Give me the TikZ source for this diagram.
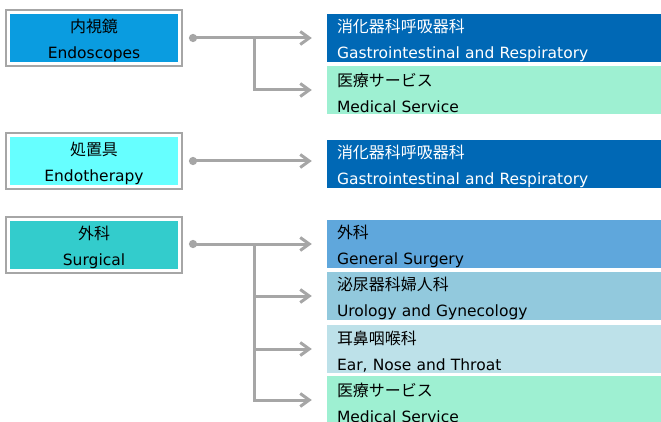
\documentclass[tikz,border=0pt]{standalone}
\usepackage{fontspec}
\setmainfont{DejaVu Sans}
\newfontfamily\jp[Scale=1.03]{Noto Sans CJK JP}
\usepackage{xcolor}
\usepackage{tikz}
\usetikzlibrary{arrows.meta}
\usetikzlibrary{positioning}

\definecolor{linegray}{HTML}{A6A6A6}
\definecolor{endoblue}{HTML}{0A9CE0}
\definecolor{endocyan}{HTML}{66FFFF}
\definecolor{surgteal}{HTML}{33CCCC}
\definecolor{gidark}{HTML}{0068B5}
\definecolor{medgreen}{HTML}{9EF0D2}
\definecolor{gsblue}{HTML}{5FA7DC}
\definecolor{urolblue}{HTML}{92C9DD}
\definecolor{entblue}{HTML}{BDE1E9}

% Japanese first line, padded on top to sit the two lines a bit lower
\newcommand{\jpline}[1]{{\jp\rule{0pt}{19pt}#1}}

\begin{document}
\begin{tikzpicture} [
            x=1pt, y=1pt,
            % ----- Node definitions ----- %
            groupnode/.style = {
                rectangle,
                fill = #1,
                draw = white,
                line width = 3pt,
                preaction = {draw = linegray, line width = 7pt},
                minimum width = 171pt,
                minimum height = 51pt,
                inner sep = 0pt,
                align = center,
                font = \fontsize{15.5}{26}\selectfont
            },
            deptnode/.style = {
                rectangle,
                fill = #1,
                minimum width = 334pt,
                minimum height = 48pt,
                inner xsep = 10pt,
                inner ysep = 0pt,
                text width = 314pt,
                align = left,
                font = \fontsize{15.5}{26}\selectfont
            },
            % ----- Connector definitions ----- %
            branch/.style = {
                draw = linegray,
                line width = 3pt,
                shorten > = 15pt,
                -{Straight Barb[length=9pt,width=13pt]}
            },
            trunk/.style = {
                branch,
                {Circle[length=8pt]}-{Straight Barb[length=9pt,width=13pt]}
            },
    ]
    \useasboundingbox (0,0) rectangle (661,-422);

            % ----- Product groups ----- %
        \node [groupnode=endoblue] (endo) at (94,-38) {\jpline{内視鏡}\\Endoscopes};
        \node [groupnode=endocyan] (endotx) at (94,-161) {\jpline{処置具}\\Endotherapy};
        \node [groupnode=surgteal] (surg) at (94,-245) {\jpline{外科}\\Surgical};

            % ----- Departments ----- %
        \node [deptnode=gidark, text=white] (gi1) at (494,-38) {\jpline{消化器科呼吸器科}\\Gastrointestinal and Respiratory};
        \node [deptnode=medgreen] (med1) at (494,-90) {\jpline{医療サービス}\\Medical Service};
        \node [deptnode=gidark, text=white] (gi2) at (494,-164) {\jpline{消化器科呼吸器科}\\Gastrointestinal and Respiratory};
        \node [deptnode=gsblue] (gs) at (494,-244) {\jpline{外科}\\General Surgery};
        \node [deptnode=urolblue] (uro) at (494,-296) {\jpline{泌尿器科婦人科}\\Urology and Gynecology};
        \node [deptnode=entblue] (ent) at (494,-349) {\jpline{耳鼻咽喉科}\\Ear, Nose and Throat};
        \node [deptnode=medgreen] (med2) at (494,-400) {\jpline{医療サービス}\\Medical Service};

            % ----- Connectors ----- %
        \coordinate [right=8pt of endo] (d1);
        \coordinate [right=73pt of endo] (b1);
        \coordinate [right=8pt of endotx] (d2);
        \coordinate (d3) at ([xshift=8pt]surg.east |- gs);
        \coordinate [right=65pt of d3] (b3);

        \draw [trunk] (d1) -- (d1 -| gi1.west);
        \draw [branch] (b1) |- (med1.west);
        \draw [trunk] (d2) -- (d2 -| gi2.west);
        \draw [trunk] (d3) -- (d3 -| gs.west);
        \draw [branch] (b3) |- (uro.west);
        \draw [branch] (b3) |- (ent.west);
        \draw [branch] (b3) |- (med2.west);

\end{tikzpicture}
\end{document}
